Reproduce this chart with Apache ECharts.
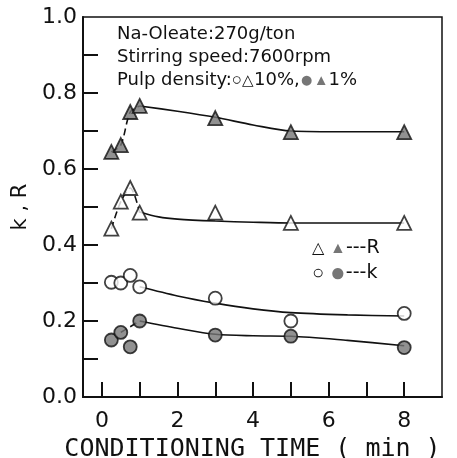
<!DOCTYPE html>
<html>
<head>
<meta charset="utf-8">
<script src="https://cdn.jsdelivr.net/npm/echarts@6/dist/echarts.min.js"></script>
<style>
html, body {margin: 0; padding: 0; background: #fff;}
#chart {width: 457px; height: 458px;}
</style>
</head>
<body>
<div id="chart"></div>
<script>
// conditioning time (min)
var times = [0.25, 0.5, 0.75, 1, 3, 5, 8];
var r1 = [0.645, 0.663, 0.75, 0.766, 0.734, 0.697, 0.697];   // R, 1%
var r10 = [0.443, 0.514, 0.55, 0.485, 0.485, 0.458, 0.458];  // R, 10%
var k10 = [0.302, 0.30, 0.32, 0.29, 0.26, 0.2, 0.22];        // k, 10%
var k1 = [0.15, 0.17, 0.132, 0.2, 0.163, 0.16, 0.13];        // k, 1%

// hand drawn trend curves
var r1DashX = [0.25, 0.5, 0.75, 1];
var r1DashY = [0.645, 0.663, 0.75, 0.766];
var r1CurveX = [1, 2, 3, 4, 5, 6.5, 8];
var r1CurveY = [0.766, 0.752, 0.736, 0.716, 0.70, 0.698, 0.698];
var r10DashX = [0.25, 0.5, 0.75, 1];
var r10DashY = [0.443, 0.514, 0.55, 0.485];
var r10CurveX = [1, 1.5, 2, 3, 4, 5, 8];
var r10CurveY = [0.487, 0.474, 0.468, 0.463, 0.46, 0.458, 0.458];
var k10CurveX = [1, 2, 3, 4, 5, 6.5, 8];
var k10CurveY = [0.29, 0.266, 0.247, 0.232, 0.222, 0.216, 0.213];
var k1DashX = [0.5, 1];
var k1DashY = [0.17, 0.2];
var k1CurveX = [1, 2, 3, 4, 5, 6.5, 8];
var k1CurveY = [0.2, 0.181, 0.165, 0.161, 0.16, 0.149, 0.135];

var xTicks = [0, 1, 2, 3, 4, 5, 6, 7, 8];
var xLabels = [0, 2, 4, 6, 8];
var yTicks = [0.1, 0.2, 0.3, 0.4, 0.5, 0.6, 0.7, 0.8, 0.9];
var yLabels = [0, 0.2, 0.4, 0.6, 0.8, 1.0];

var xMin = -0.5, xMax = 9;

function pairs(xs, ys) {
    return xs.map(function (x, i) { return [x, ys[i]]; });
}

var font = 'DejaVu Sans';
var gray = '#767676';

function curve(xs, ys, dashed) {
    return {
        type: 'line',
        data: pairs(xs, ys),
        smooth: 0.3,
        showSymbol: false,
        silent: true,
        z: 1,
        lineStyle: {color: '#111', width: 1.6, type: dashed ? [7, 4] : 'solid'}
    };
}

function marks(ys, symbol, filled, size) {
    return {
        type: 'scatter',
        data: pairs(times, ys),
        symbol: symbol,
        symbolSize: size,
        z: 5,
        itemStyle: {color: filled ? gray : '#fff', borderColor: '#111', borderWidth: 1.8}
    };
}

var myChart = echarts.init(document.getElementById('chart'), null, {renderer: 'canvas'});
myChart.setOption({
    animation: false,
    textStyle: {fontFamily: font},
    grid: {
        left: 83, right: 15, top: 17, bottom: 61,
        containLabel: false,
        outerBoundsMode: 'none',
        show: true, borderColor: '#111', borderWidth: 1.5
    },
    xAxis: {
        type: 'value',
        min: xMin,
        max: xMax,
        name: 'CONDITIONING TIME ( min )',
        nameLocation: 'middle',
        nameGap: 37,
        nameTextStyle: {fontSize: 25, color: '#111', fontFamily: 'DejaVu Sans Mono', padding: [0, 20, 0, 0]},
        axisLine: {onZero: false, lineStyle: {color: '#111', width: 2}},
        axisTick: {show: true, inside: true, length: 15, customValues: xTicks, lineStyle: {color: '#111', width: 2}},
        axisLabel: {customValues: xLabels, fontSize: 22, color: '#111', margin: 13},
        splitLine: {show: false}
    },
    yAxis: {
        type: 'value',
        min: 0,
        max: 1,
        interval: 0.1,
        name: 'k , R',
        nameLocation: 'middle',
        nameGap: 45,
        nameTextStyle: {fontSize: 21, color: '#111', fontFamily: font},
        axisLine: {show: true, onZero: false, lineStyle: {color: '#111', width: 2}},
        axisTick: {show: true, inside: true, length: 15, customValues: yTicks, lineStyle: {color: '#111', width: 2}},
        axisLabel: {
            customValues: yLabels,
            fontSize: 22,
            color: '#111',
            margin: 6,
            formatter: function (v) { return v.toFixed(1); }
        },
        splitLine: {show: false}
    },
    graphic: [
        {
            type: 'text',
            left: 117,
            top: 23,
            style: {
                text: 'Na-Oleate:270g/ton\nStirring speed:7600rpm\nPulp density:{o|○}{t|△}10%,{fo|●}{ft|▲}1%',
                font: '18px "DejaVu Sans"',
                fill: '#111',
                lineHeight: 23,
                rich: {
                    o: {fontSize: 17, fill: '#111'},
                    t: {fontSize: 15, fill: '#111'},
                    fo: {fontSize: 23, fill: gray},
                    ft: {fontSize: 15, fill: gray}
                }
            }
        },
        {
            type: 'text',
            left: 312,
            top: 236,
            style: {
                text: '{t|△} {ft|▲}---R\n{o|○} {fo|●}---k',
                font: '19px "DejaVu Sans"',
                fill: '#111',
                lineHeight: 25,
                rich: {
                    o: {fontSize: 20, fill: '#111'},
                    t: {fontSize: 16, fill: '#111'},
                    fo: {fontSize: 26, fill: gray},
                    ft: {fontSize: 16, fill: gray}
                }
            }
        }
    ],
    series: [
        {
            // inner ticks on the left axis, placed by the axis scales
            type: 'custom',
            silent: true,
            clip: false,
            z: 3,
            data: yTicks.map(function (v) { return [xMin, v]; }),
            renderItem: function (params, api) {
                var p = api.coord([api.value(0), api.value(1)]);
                return {
                    type: 'line',
                    shape: {x1: p[0], y1: p[1], x2: p[0] + 15, y2: p[1]},
                    style: {stroke: '#111', lineWidth: 2}
                };
            }
        },
        curve(r1DashX, r1DashY, true),
        curve(r1CurveX, r1CurveY, false),
        curve(r10DashX, r10DashY, true),
        curve(r10CurveX, r10CurveY, false),
        curve(k10CurveX, k10CurveY, false),
        curve(k1DashX, k1DashY, true),
        curve(k1CurveX, k1CurveY, false),
        marks(r1, 'triangle', true, 14),
        marks(r10, 'triangle', false, 14),
        marks(k10, 'circle', false, 13),
        marks(k1, 'circle', true, 13)
    ]
});
</script>
</body>
</html>
